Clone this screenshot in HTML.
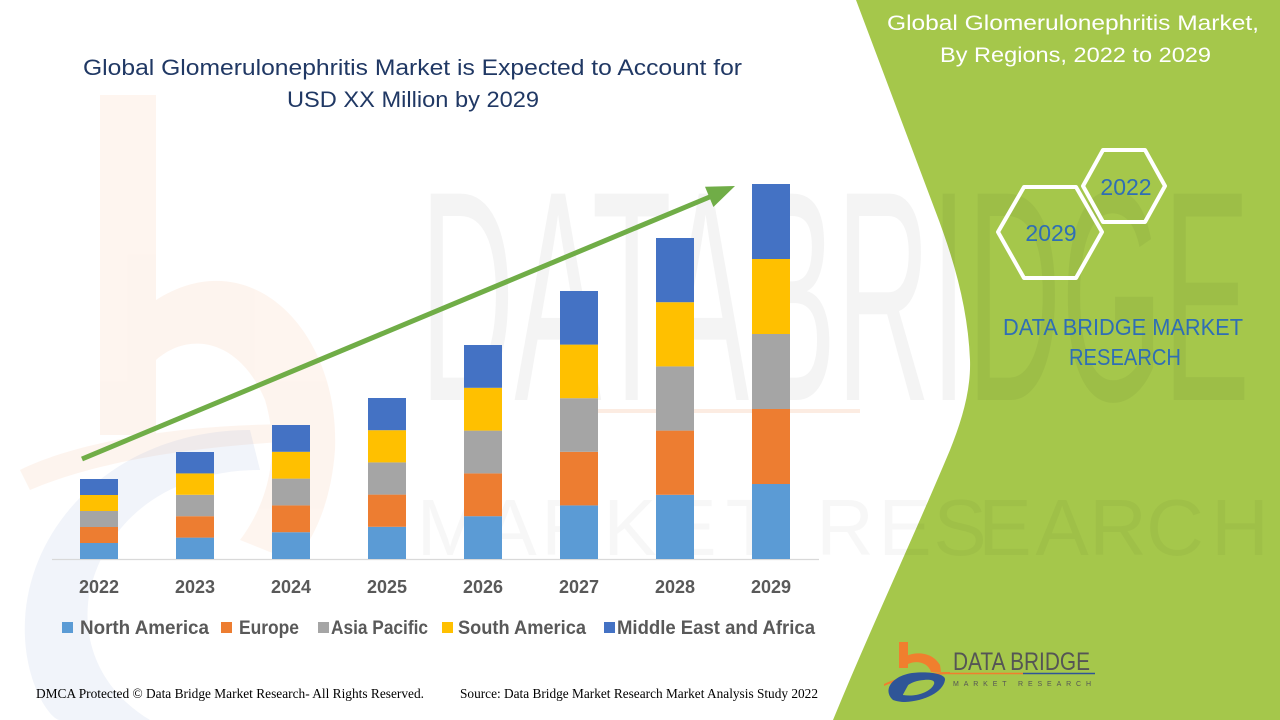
<!DOCTYPE html>
<html>
<head>
<meta charset="utf-8">
<style>
  html,body{margin:0;padding:0;background:#fff;}
  svg{display:block;}
</style>
</head>
<body>
<svg width="1280" height="720" viewBox="0 0 1280 720" xmlns="http://www.w3.org/2000/svg">
  <rect width="1280" height="720" fill="#ffffff"/>

  <!-- faint watermark logo on left -->
  <g opacity="0.2">
    <rect x="100" y="95" width="56" height="340" fill="#f8cbad"/>
    <path d="M156,300 C250,240 340,330 335,450 C330,520 300,560 290,560 L240,540 C270,500 280,450 265,400 C240,340 190,330 156,360 Z" fill="#f8cbad"/>
    <path d="M20,470 C80,440 200,420 330,425 L320,440 C200,445 100,460 30,490 Z" fill="#f8cbad"/>
  </g>
  <g opacity="0.13">
    <path d="M250,430 C120,430 30,520 25,620 C22,680 50,720 60,720 L150,720 C100,690 80,640 90,590 C110,510 180,470 260,470 Z" fill="#8faadc"/>
  </g>
  <line x1="590" y1="411" x2="860" y2="411" stroke="#f8cbad" stroke-width="4" opacity="0.35"/>

  <!-- green panel -->
  <path d="M856,0 L935,210 C955,262 968,310 970,360 C971,390 962,420 950,450 C910,545 870,630 833,720 L1280,720 L1280,0 Z" fill="#a5c74b"/>

  <!-- big watermark text -->
  <text x="420" y="400" font-family="Liberation Sans, sans-serif" font-size="300" textLength="830" lengthAdjust="spacingAndGlyphs" fill="#000" fill-opacity="0.045">DATABRIDGE</text>
  <g font-family="Liberation Sans, sans-serif" font-size="80" fill="#000" fill-opacity="0.03" text-anchor="middle">
    <text x="450" y="555">M</text>
    <text x="510" y="555">A</text>
    <text x="570" y="555">R</text>
    <text x="630" y="555">K</text>
    <text x="690" y="555">E</text>
    <text x="750" y="555">T</text>
    <text x="845" y="555">R</text>
    <text x="905" y="555">E</text>
    <text x="960" y="555">S</text>
    <text x="1005" y="555">E</text>
    <text x="1062" y="555">A</text>
    <text x="1118" y="555">R</text>
    <text x="1175" y="555">C</text>
    <text x="1240" y="555">H</text>
  </g>

  <!-- left title -->
  <text x="83" y="75" font-family="Liberation Sans, sans-serif" font-size="22" fill="#203864" textLength="659" lengthAdjust="spacingAndGlyphs">Global Glomerulonephritis Market is Expected to Account for</text>
  <text x="287" y="107" font-family="Liberation Sans, sans-serif" font-size="22" fill="#203864" textLength="252" lengthAdjust="spacingAndGlyphs">USD XX Million by 2029</text>

  <!-- axis -->
  <line x1="52" y1="559.5" x2="819" y2="559.5" stroke="#d9d9d9" stroke-width="1.2"/>

  <!-- bars -->
  <g>
    <rect x="80" y="543" width="38" height="16" fill="#5b9bd5"/>
    <rect x="80" y="527" width="38" height="16" fill="#ed7d31"/>
    <rect x="80" y="511" width="38" height="16" fill="#a5a5a5"/>
    <rect x="80" y="495" width="38" height="16" fill="#ffc000"/>
    <rect x="80" y="479" width="38" height="16" fill="#4472c4"/>
    <rect x="176" y="537.6" width="38" height="21.4" fill="#5b9bd5"/>
    <rect x="176" y="516.2" width="38" height="21.4" fill="#ed7d31"/>
    <rect x="176" y="494.8" width="38" height="21.4" fill="#a5a5a5"/>
    <rect x="176" y="473.4" width="38" height="21.4" fill="#ffc000"/>
    <rect x="176" y="452" width="38" height="21.4" fill="#4472c4"/>
    <rect x="272" y="532.2" width="38" height="26.8" fill="#5b9bd5"/>
    <rect x="272" y="505.4" width="38" height="26.8" fill="#ed7d31"/>
    <rect x="272" y="478.6" width="38" height="26.8" fill="#a5a5a5"/>
    <rect x="272" y="451.8" width="38" height="26.8" fill="#ffc000"/>
    <rect x="272" y="425" width="38" height="26.8" fill="#4472c4"/>
    <rect x="368" y="526.8" width="38" height="32.2" fill="#5b9bd5"/>
    <rect x="368" y="494.6" width="38" height="32.2" fill="#ed7d31"/>
    <rect x="368" y="462.4" width="38" height="32.2" fill="#a5a5a5"/>
    <rect x="368" y="430.2" width="38" height="32.2" fill="#ffc000"/>
    <rect x="368" y="398" width="38" height="32.2" fill="#4472c4"/>
    <rect x="464" y="516.2" width="38" height="42.8" fill="#5b9bd5"/>
    <rect x="464" y="473.4" width="38" height="42.8" fill="#ed7d31"/>
    <rect x="464" y="430.6" width="38" height="42.8" fill="#a5a5a5"/>
    <rect x="464" y="387.8" width="38" height="42.8" fill="#ffc000"/>
    <rect x="464" y="345" width="38" height="42.8" fill="#4472c4"/>
    <rect x="560" y="505.4" width="38" height="53.6" fill="#5b9bd5"/>
    <rect x="560" y="451.8" width="38" height="53.6" fill="#ed7d31"/>
    <rect x="560" y="398.2" width="38" height="53.6" fill="#a5a5a5"/>
    <rect x="560" y="344.6" width="38" height="53.6" fill="#ffc000"/>
    <rect x="560" y="291" width="38" height="53.6" fill="#4472c4"/>
    <rect x="656" y="494.8" width="38" height="64.2" fill="#5b9bd5"/>
    <rect x="656" y="430.6" width="38" height="64.2" fill="#ed7d31"/>
    <rect x="656" y="366.4" width="38" height="64.2" fill="#a5a5a5"/>
    <rect x="656" y="302.2" width="38" height="64.2" fill="#ffc000"/>
    <rect x="656" y="238" width="38" height="64.2" fill="#4472c4"/>
    <rect x="752" y="484" width="38" height="75" fill="#5b9bd5"/>
    <rect x="752" y="409" width="38" height="75" fill="#ed7d31"/>
    <rect x="752" y="334" width="38" height="75" fill="#a5a5a5"/>
    <rect x="752" y="259" width="38" height="75" fill="#ffc000"/>
    <rect x="752" y="184" width="38" height="75" fill="#4472c4"/>
  </g>

  <!-- arrow -->
  <line x1="82" y1="459" x2="712" y2="196" stroke="#70ad47" stroke-width="5"/>
  <polygon points="735,186 713.4,207 705,186.7" fill="#70ad47"/>

  <!-- year labels -->
  <g font-family="Liberation Sans, sans-serif" font-size="18" font-weight="bold" fill="#595959" text-anchor="middle">
    <text x="99" y="593">2022</text>
    <text x="195" y="593">2023</text>
    <text x="291" y="593">2024</text>
    <text x="387" y="593">2025</text>
    <text x="483" y="593">2026</text>
    <text x="579" y="593">2027</text>
    <text x="675" y="593">2028</text>
    <text x="771" y="593">2029</text>
  </g>

  <!-- legend -->
  <g font-family="Liberation Sans, sans-serif" font-size="19" font-weight="bold" fill="#595959">
    <rect x="62" y="622" width="11" height="11" fill="#5b9bd5"/>
    <text x="80" y="634" textLength="129" lengthAdjust="spacingAndGlyphs">North America</text>
    <rect x="221" y="622" width="11" height="11" fill="#ed7d31"/>
    <text x="239" y="634" textLength="60" lengthAdjust="spacingAndGlyphs">Europe</text>
    <rect x="318" y="622" width="11" height="11" fill="#a5a5a5"/>
    <text x="331" y="634" textLength="97" lengthAdjust="spacingAndGlyphs">Asia Pacific</text>
    <rect x="442" y="622" width="11" height="11" fill="#ffc000"/>
    <text x="458" y="634" textLength="128" lengthAdjust="spacingAndGlyphs">South America</text>
    <rect x="604" y="622" width="11" height="11" fill="#4472c4"/>
    <text x="617" y="634" textLength="198" lengthAdjust="spacingAndGlyphs">Middle East and Africa</text>
  </g>

  <!-- footer -->
  <text x="36" y="698" font-family="Liberation Serif, serif" font-size="14" fill="#000" textLength="388" lengthAdjust="spacingAndGlyphs">DMCA Protected © Data Bridge Market Research- All Rights Reserved.</text>
  <text x="460" y="698" font-family="Liberation Serif, serif" font-size="14" fill="#000" textLength="358" lengthAdjust="spacingAndGlyphs">Source: Data Bridge Market Research Market Analysis Study 2022</text>

  <!-- right title -->
  <text x="887" y="30" font-family="Liberation Sans, sans-serif" font-size="21" fill="#ffffff" textLength="372" lengthAdjust="spacingAndGlyphs">Global Glomerulonephritis Market,</text>
  <text x="940" y="62" font-family="Liberation Sans, sans-serif" font-size="21" fill="#ffffff" textLength="271" lengthAdjust="spacingAndGlyphs">By Regions, 2022 to 2029</text>

  <!-- hexagons -->
  <polygon points="1083,186 1103,150 1145,150 1165,186 1145,222 1103,222" fill="none" stroke="#ffffff" stroke-width="4" stroke-linejoin="round"/>
  <polygon points="998,232 1024,187 1076,187 1102,232 1076,278 1024,278" fill="none" stroke="#ffffff" stroke-width="4" stroke-linejoin="round"/>
  <text x="1126" y="195" font-family="Liberation Sans, sans-serif" font-size="23" fill="#2f6eb5" text-anchor="middle">2022</text>
  <text x="1051" y="241" font-family="Liberation Sans, sans-serif" font-size="23" fill="#2f6eb5" text-anchor="middle">2029</text>

  <!-- DATA BRIDGE MARKET RESEARCH -->
  <text x="1003" y="335" font-family="Liberation Sans, sans-serif" font-size="23" fill="#2f6eb5" textLength="240" lengthAdjust="spacingAndGlyphs">DATA BRIDGE MARKET</text>
  <text x="1069" y="365" font-family="Liberation Sans, sans-serif" font-size="23" fill="#2f6eb5" textLength="112" lengthAdjust="spacingAndGlyphs">RESEARCH</text>

  <!-- bottom logo -->
  <g>
    <rect x="899" y="642" width="9" height="22" fill="#f07f2e"/>
    <path d="M899,662 C905,652 930,648 940,665 L941,672 L931,672 C928,662 916,660 908,664 L908,668 L899,668 Z" fill="#f07f2e"/>
    <path d="M884,684 C900,676 925,672 950,672 L950,674 C925,675 900,679 884,686 Z" fill="#f07f2e"/>
    <path d="M893,700 C882,690 892,676 912,673 C930,671 946,674 945,680 C943,692 925,701 905,702 C900,702 896,701 893,700 Z" fill="#2f5597"/>
    <path d="M903,695 C902,688 910,681 924,680 C934,679 936,682 933,686 C928,693 915,697 903,695 Z" fill="#a5c74b"/>
    <path d="M896,699 L908,678 L912,678 L900,700 Z" fill="#2f5597"/>
  </g>
  <text x="953" y="670" font-family="Liberation Sans, sans-serif" font-size="25" fill="#555555" textLength="137" lengthAdjust="spacingAndGlyphs">DATA BRIDGE</text>
  <line x1="948" y1="673.5" x2="1023" y2="673.5" stroke="#f07f2e" stroke-width="1.5"/>
  <line x1="1023" y1="673.5" x2="1095" y2="673.5" stroke="#2f5597" stroke-width="1.5"/>
  <text x="953" y="686" font-family="Liberation Sans, sans-serif" font-size="7" fill="#555555" textLength="138" lengthAdjust="spacing">MARKET RESEARCH</text>
</svg>
</body>
</html>
